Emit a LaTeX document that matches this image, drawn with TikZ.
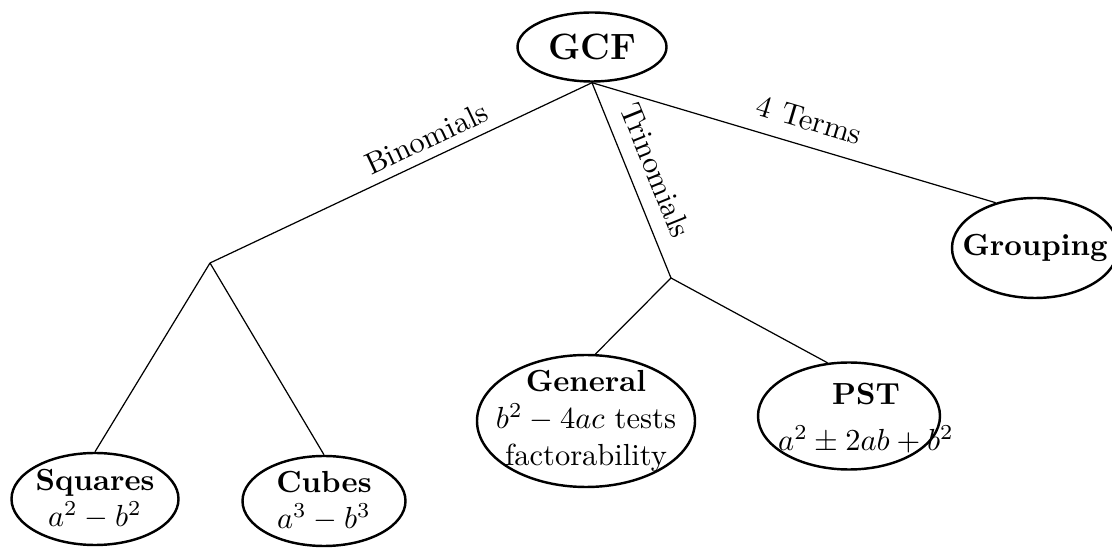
\documentclass[tikz,border=0pt]{standalone}
\usetikzlibrary{shapes.geometric}
\begin{document}
\begin{tikzpicture}[x=0.3279pt,y=-0.3279pt,
  ell/.style 2 args={draw, ellipse, inner sep=0pt, line width=0.8pt,
    minimum width=#1*0.3279pt, minimum height=#2*0.3279pt},
  txt/.style={align=center, inner sep=0pt},
  conn/.style={line width=0.4pt},
  lbl/.style={sloped, above, inner sep=3pt}]
\useasboundingbox (0,0) rectangle (1112,555);
% ellipses
\node[ell={149}{69}]  (gcf) at (592,47) {};
\node[ell={167}{92}]  (squares) at (95,499) {};
\node[ell={163}{90}]  (cubes) at (324,501) {};
\node[ell={218}{132}] (general) at (586,421) {};
\node[ell={182}{107}] (pst) at (849,416) {};
\node[ell={166}{100}] (grouping) at (1035,248) {};
% texts
\node[txt] (gcft) at (gcf) {\large\bfseries GCF};
\node[txt] (squarest) at (squares) {\textbf{Squares}\\$a^2-b^2$};
\node[txt] (cubest) at (cubes) {\textbf{Cubes}\\$a^3-b^3$};
\node[txt] (generalt) at (general) {\textbf{General}\\$b^2-4ac$ tests\\factorability};
\node[txt] (pstt) at (866,418) {\textbf{PST}\\[3pt]$a^2\pm 2ab+b^2$};
\node[txt] (groupingt) at (grouping) {\textbf{Grouping}};
% joints
\coordinate (bj) at (210,263);
\coordinate (tj) at (671,278);
% connectors
\draw[conn] (gcf.south) -- node[lbl, pos=0.41] {Binomials} (bj);
\draw[conn] (gcf.south) -- node[lbl, pos=0.5, inner sep=5pt] {Trinomials} (tj);
\draw[conn] (gcf.south) -- node[lbl, pos=0.52, inner sep=5pt] {4 Terms} (grouping.131);
\draw[conn] (bj) -- (squares.north);
\draw[conn] (bj) -- (cubes.north);
\draw[conn] (tj) -- (general.82);
\draw[conn] (tj) -- (pst.112);
\end{tikzpicture}
\end{document}
